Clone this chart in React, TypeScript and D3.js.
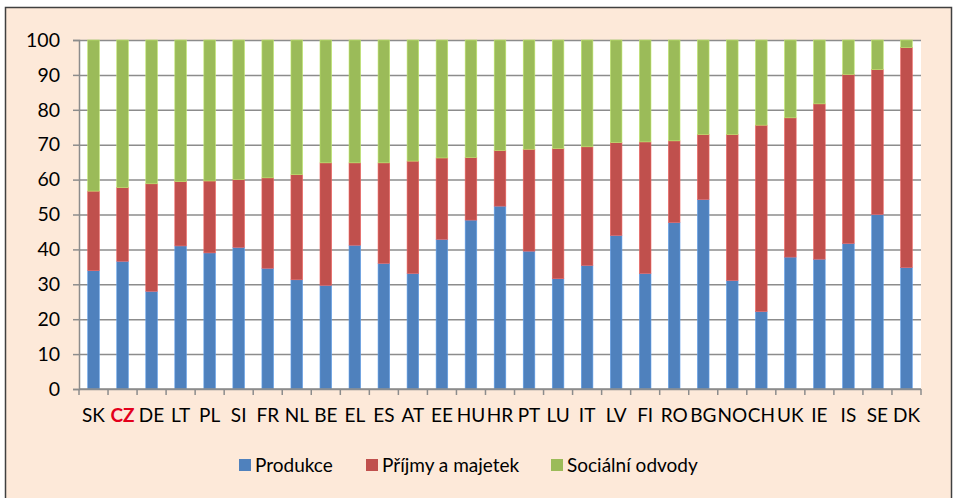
import { useEffect, useRef } from 'react';
import * as d3 from 'd3';

// Country codes along the x axis
const countries = [
  'SK', 'CZ', 'DE', 'LT', 'PL', 'SI', 'FR', 'NL', 'BE', 'EL', 'ES', 'AT', 'EE', 'HU', 'HR',
  'PT', 'LU', 'IT', 'LV', 'FI', 'RO', 'BG', 'NO', 'CH', 'UK', 'IE', 'IS', 'SE', 'DK'
];

// Shares in %
const produkce = [
  33.9, 36.6, 28.0, 41.0, 39.0, 40.6, 34.6, 31.3, 29.7, 41.2, 36.0, 33.1, 42.9, 48.4, 52.4,
  39.5, 31.6, 35.4, 44.0, 33.1, 47.7, 54.3, 31.1, 22.2, 37.8, 37.2, 41.7, 50.0, 34.8
];
const prijmy = [
  22.8, 21.1, 30.8, 18.4, 20.6, 19.4, 25.9, 30.1, 35.1, 23.6, 28.8, 32.2, 23.3, 17.9, 15.9,
  29.2, 37.3, 34.0, 26.6, 37.7, 23.4, 18.6, 41.8, 53.4, 39.9, 44.5, 48.4, 41.5, 63.0
];
const socialni = [
  43.3, 42.3, 41.2, 40.6, 40.4, 40.0, 39.5, 38.6, 35.2, 35.2, 35.2, 34.7, 33.8, 33.7, 31.7,
  31.3, 31.1, 30.6, 29.4, 29.2, 28.9, 27.1, 27.1, 24.4, 22.3, 18.3, 9.9, 8.5, 2.2
];

const yTicks = [0, 10, 20, 30, 40, 50, 60, 70, 80, 90, 100];

const seriesNames = ['Produkce', 'Příjmy a majetek', 'Sociální odvody'];
const seriesColors = ['#4F81BD', '#C0504D', '#9BBB59'];

const W = 954;
const H = 498;

const App = () => {
  const ref = useRef<SVGSVGElement>(null);

  useEffect(() => {
    if (!ref.current) return;
    const svg = d3.select(ref.current);
    svg.selectAll('*').remove();

    const font = 'Lato, "Open Sans", sans-serif';
    const margin = { top: 40, right: 33, bottom: 109, left: 79 };
    const width = W - margin.left - margin.right;
    const height = H - margin.top - margin.bottom;

    // Frame
    svg.append('rect')
      .attr('x', 5.5).attr('y', 7.5)
      .attr('width', 946).attr('height', 500)
      .attr('fill', '#FDE9D9')
      .attr('stroke', '#404040')
      .attr('stroke-width', 1.5);

    const g = svg.append('g')
      .attr('transform', `translate(${margin.left},${margin.top})`);

    g.append('rect')
      .attr('width', width)
      .attr('height', height)
      .attr('fill', '#ffffff');

    const x = d3.scaleBand()
      .domain(countries)
      .range([0, width])
      .paddingInner(0.6)
      .paddingOuter(0.3);

    const y = d3.scaleLinear().domain([0, 100]).range([height, 0]);

    // Gridlines + y ticks
    g.append('g')
      .call(d3.axisLeft(y).tickValues(yTicks).tickSize(-width).tickFormat(() => ''))
      .call(s => s.select('.domain').remove())
      .call(s => s.selectAll('.tick line')
        .attr('stroke', '#8C8C8C')
        .attr('stroke-width', 1.5));

    g.append('g')
      .call(d3.axisLeft(y).tickValues(yTicks).tickSize(6).tickPadding(10))
      .call(s => s.select('.domain').attr('stroke', '#8C8C8C').attr('stroke-width', 1.5))
      .call(s => s.selectAll('.tick line').attr('stroke', '#8C8C8C').attr('stroke-width', 1.5))
      .call(s => s.selectAll('text')
        .attr('x', -19)
        .style('font-family', font)
        .style('font-size', '19.5px')
        .style('fill', '#000'));

    // Stacked bars
    const rows = countries.map((c, i) => ({
      country: c,
      produkce: produkce[i],
      prijmy: prijmy[i],
      socialni: socialni[i]
    }));
    const keys = ['produkce', 'prijmy', 'socialni'];
    const stacked = d3.stack<any>().keys(keys)(rows);

    stacked.forEach((layer, li) => {
      g.append('g')
        .selectAll('rect')
        .data(layer)
        .join('rect')
        .attr('x', d => x(d.data.country)!)
        .attr('y', d => y(Math.min(d[1], 100)))
        .attr('width', x.bandwidth())
        .attr('height', d => y(d[0]) - y(Math.min(d[1], 100)))
        .attr('fill', seriesColors[li])
        .attr('stroke', d3.color(seriesColors[li])!.brighter(0.6).formatHex())
        .attr('stroke-width', 0.6);
    });

    // X axis with ticks between categories
    const xAxis = g.append('g').attr('transform', `translate(0,${height})`);
    xAxis.append('line')
      .attr('x1', 0).attr('x2', width)
      .attr('stroke', '#8C8C8C').attr('stroke-width', 1.5);
    const step = x.step();
    d3.range(countries.length + 1).forEach(i => {
      xAxis.append('line')
        .attr('x1', i * step).attr('x2', i * step)
        .attr('y1', 0).attr('y2', 6)
        .attr('stroke', '#8C8C8C').attr('stroke-width', 1.5);
    });
    xAxis.selectAll('text.lbl')
      .data(countries)
      .join('text')
      .attr('class', 'lbl')
      .attr('x', d => x(d)! + x.bandwidth() / 2)
      .attr('y', 33)
      .attr('text-anchor', 'middle')
      .style('font-family', font)
      .style('font-size', '19px')
      .style('font-weight', d => (d === 'CZ' ? 'bold' : 'normal'))
      .style('fill', d => (d === 'CZ' ? '#E3001B' : '#000'))
      .text(d => d);

    // Legend
    const legendX = [239, 366, 551];
    seriesNames.forEach((name, i) => {
      const lg = svg.append('g').attr('transform', `translate(${legendX[i]},459)`);
      lg.append('rect')
        .attr('width', 12).attr('height', 12)
        .attr('fill', seriesColors[i]);
      lg.append('text')
        .attr('x', 16)
        .attr('y', 12.5)
        .style('font-family', font)
        .style('font-size', '19px')
        .style('fill', '#000')
        .text(name);
    });
  }, []);

  return (
    <svg
      ref={ref}
      width={W}
      height={H}
      style={{ position: 'absolute', left: 0, top: 0, background: '#fff' }}
    />
  );
};

export default App;
